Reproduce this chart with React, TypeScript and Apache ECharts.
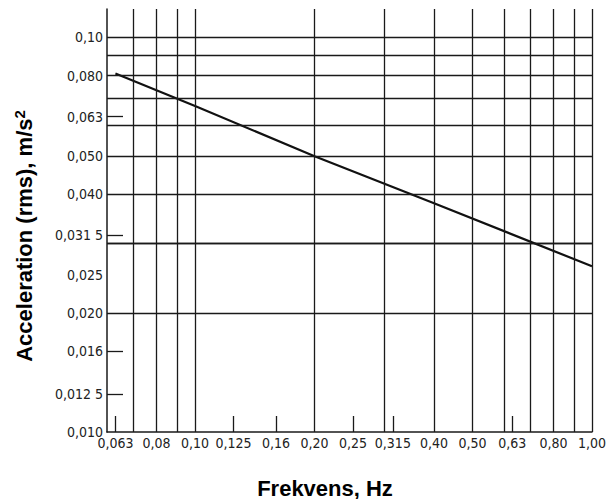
import React, { useEffect, useRef } from 'react';
import * as echarts from 'echarts';

// X axis (frequency, Hz) – log scale
const xLabelValues = [0.063, 0.08, 0.1, 0.125, 0.16, 0.2, 0.25, 0.315, 0.4, 0.5, 0.63, 0.8, 1.0];
const xLabelTexts = ['0,063', '0,08', '0,10', '0,125', '0,16', '0,20', '0,25', '0,315', '0,40', '0,50', '0,63', '0,80', '1,00'];
const xGridLines = [0.07, 0.08, 0.09, 0.1, 0.2, 0.3, 0.4, 0.5, 0.6, 0.7, 0.8, 0.9, 1.0];
const xShortTicks = [0.063, 0.125, 0.16, 0.25, 0.315, 0.63];

// Y axis (acceleration rms, m/s²) – log scale
const yLabelValues = [0.01, 0.0125, 0.016, 0.02, 0.025, 0.0315, 0.04, 0.05, 0.063, 0.08, 0.1];
const yLabelTexts = ['0,010', '0,012 5', '0,016', '0,020', '0,025', '0,031 5', '0,040', '0,050', '0,063', '0,080', '0,10'];
const yGridLines = [0.02, 0.025, 0.03, 0.04, 0.05, 0.06, 0.07, 0.08, 0.09, 0.1];
const yShortTicks = [0.0125, 0.016, 0.0315, 0.063];

// Curve [frequency, acceleration]
const curve: [number, number][] = [
  [0.063, 0.081],
  [0.1, 0.067],
  [0.2, 0.05],
  [0.4, 0.038],
  [1.0, 0.0263],
];

const xTitle = 'Frekvens, Hz';
const yTitleMain = 'Acceleration (rms), m/s';
const yTitleSup = '2';

const labelFont = "'DejaVu Sans Condensed', 'Liberation Sans Narrow', 'DejaVu Sans', sans-serif";
const titleFont = "'Liberation Sans', Arial, sans-serif";
const ink = '#1a1a1a';

function makeFormatter(vals: number[], texts: string[]) {
  return (v: number) => {
    const i = vals.findIndex((x) => Math.abs(x - v) / x < 1e-4);
    return i >= 0 ? texts[i] : '';
  };
}

export default function App() {
  const ref = useRef<HTMLDivElement>(null);
  useEffect(() => {
    const chart = echarts.init(ref.current!, null, { renderer: 'svg' });
    chart.setOption({
      animation: false,
      backgroundColor: '#fff',
      grid: { left: 107, right: 16, top: 9, bottom: 67, containLabel: false, outerBoundsMode: 'none' },
      xAxis: {
        type: 'log',
        logBase: 10,
        min: 0.06,
        max: 1.0,
        axisLine: { show: true, lineStyle: { color: ink, width: 1.5 } },
        axisTick: { show: true, inside: true, length: 16, customValues: xShortTicks, lineStyle: { color: ink, width: 1.3 } },
        axisLabel: {
          customValues: xLabelValues,
          formatter: makeFormatter(xLabelValues, xLabelTexts),
          margin: 4,
          fontFamily: labelFont,
          fontSize: 14,
          color: '#222',
        },
        splitLine: { show: false },
        minorTick: { show: false },
        minorSplitLine: { show: false },
      },
      yAxis: {
        type: 'log',
        logBase: 10,
        min: 0.01,
        max: 0.118,
        axisLine: { show: true, lineStyle: { color: ink, width: 1.5 } },
        axisTick: { show: true, inside: true, length: 16, customValues: yShortTicks, lineStyle: { color: ink, width: 1.3 } },
        axisLabel: {
          customValues: yLabelValues,
          formatter: makeFormatter(yLabelValues, yLabelTexts),
          margin: 4,
          fontFamily: labelFont,
          fontSize: 14,
          color: '#222',
        },
        splitLine: { show: false },
        minorTick: { show: false },
        minorSplitLine: { show: false },
      },
      graphic: [
        {
          type: 'text',
          x: 325,
          y: 488,
          silent: true,
          style: {
            text: xTitle,
            fontFamily: titleFont,
            fontWeight: 'bold',
            fontSize: 22,
            fill: '#000',
            align: 'center',
            verticalAlign: 'middle',
          },
        },
        {
          type: 'text',
          x: 24,
          y: 236,
          rotation: Math.PI / 2,
          silent: true,
          style: {
            text: `{m|${yTitleMain}}{s|${yTitleSup}}`,
            align: 'center',
            verticalAlign: 'middle',
            rich: {
              m: { fontFamily: titleFont, fontWeight: 'bold', fontSize: 22, fill: '#000', lineHeight: 24 },
              s: { fontFamily: titleFont, fontWeight: 'bold', fontSize: 15, fill: '#000', verticalAlign: 'top' },
            },
          },
        },
      ],
      series: [
        {
          type: 'line',
          data: curve,
          symbol: 'none',
          showSymbol: false,
          lineStyle: { color: '#111', width: 2.2 },
          z: 3,
          markLine: {
            silent: true,
            symbol: ['none', 'none'],
            label: { show: false },
            emphasis: { disabled: true },
            lineStyle: { color: ink, width: 1.3, type: 'solid' },
            data: [
              ...xGridLines.map((v) => ({ xAxis: v })),
              ...yGridLines.map((v) => ({ yAxis: v })),
            ],
          },
        },
      ],
    });
    return () => chart.dispose();
  }, []);
  return <div ref={ref} style={{ position: 'absolute', left: 0, top: 0, width: 608, height: 499 }} />;
}
